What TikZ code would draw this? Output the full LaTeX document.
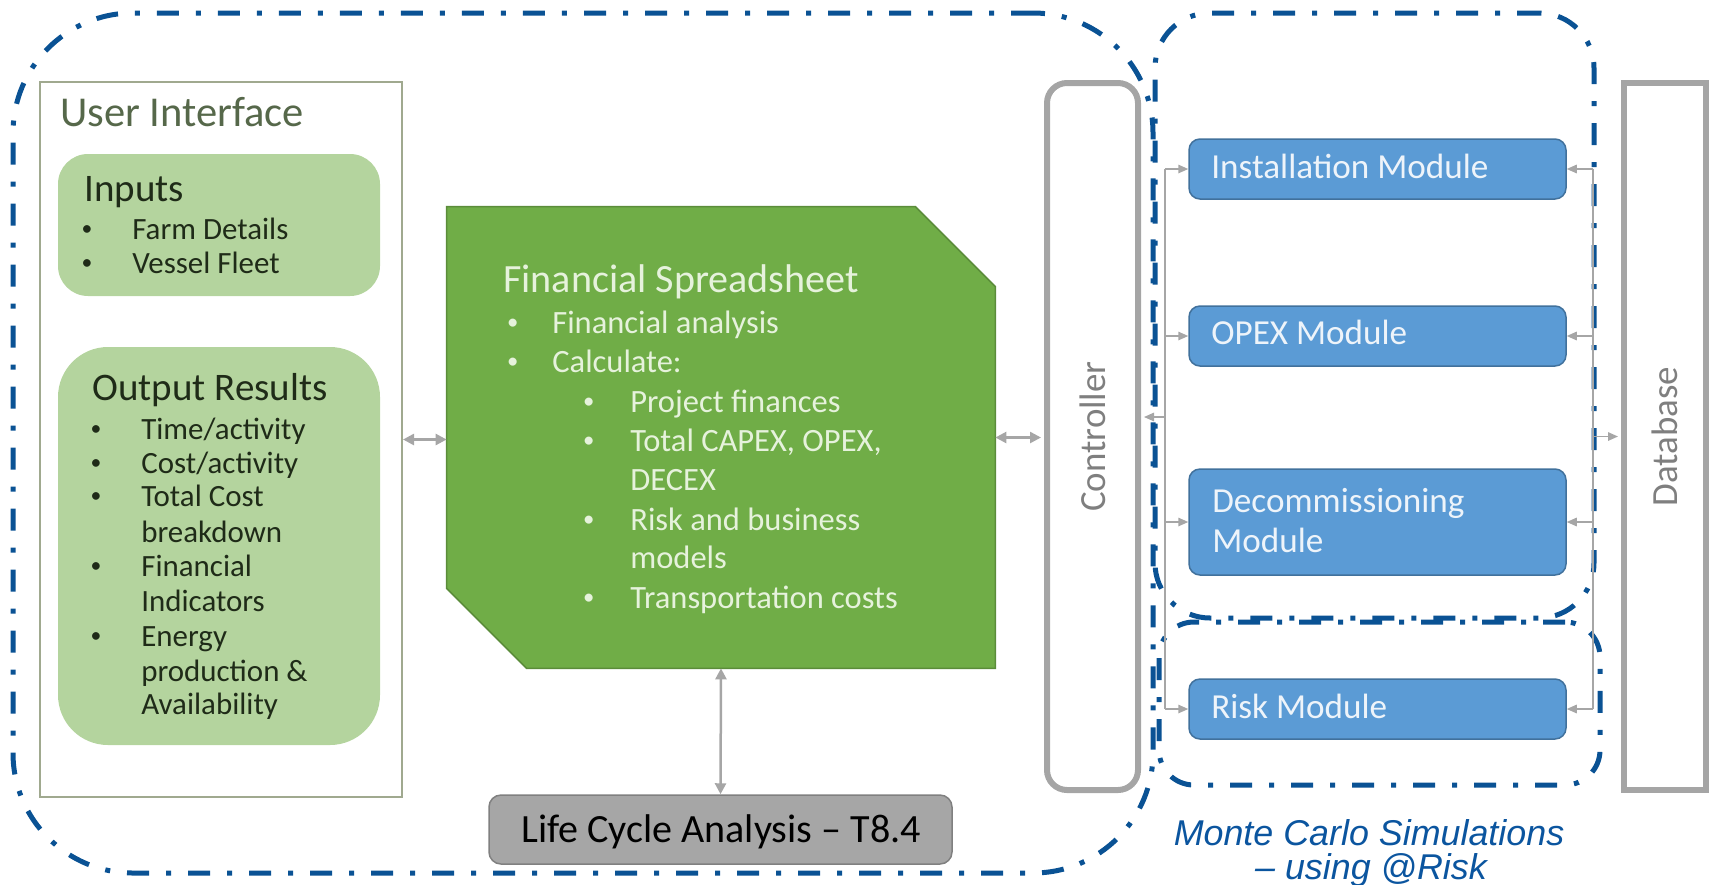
\documentclass[tikz,border=0pt]{standalone}
\usepackage{fontspec}
\setmainfont{Carlito}
\newfontfamily\mcfont{Liberation Sans}
\usepackage{xcolor}
\usepackage{tikz}
\usetikzlibrary{arrows.meta,positioning,calc,fit}

\definecolor{dashblue}{HTML}{0A5294}
\definecolor{mcblue}{HTML}{0B559F}
\definecolor{uigreen}{HTML}{56684A}
\definecolor{uiedge}{HTML}{A0A98F}
\definecolor{boxgreen}{HTML}{B4D49E}
\definecolor{darktext}{HTML}{1F2B18}
\definecolor{fsgreen}{HTML}{70AD47}
\definecolor{fsedge}{HTML}{5B8C3A}
\definecolor{fstext}{HTML}{E6F2DC}
\definecolor{modblue}{HTML}{5B9BD5}
\definecolor{modedge}{HTML}{41719C}
\definecolor{modtextc}{HTML}{EEF4FA}
\definecolor{linkgray}{HTML}{A6A6A6}
\definecolor{framegray}{HTML}{A5A5A5}
\definecolor{lcaedge}{HTML}{808080}
\definecolor{labelgray}{HTML}{7F7F7F}

% small bullet hung to the left of an item
\newcommand{\bdot}[1]{\llap{\raisebox{0.1em}{\scalebox{0.7}{\textbullet}}\hspace{#1}}}

\begin{document}
\begin{tikzpicture}[
  x=0.2mm, y=-0.2mm,
  region/.style={draw=dashblue, line width=1mm, dash pattern=on 4.4mm off 3.4mm on 1mm off 3.4mm, inner sep=0pt},
  uiframe/.style={draw=uiedge, line width=0.4mm, inner sep=0pt},
  greenbox/.style={fill=boxgreen, inner sep=0pt},
  fsbody/.style={fill=fsgreen, draw=fsedge, line width=0.3mm},
  lcabox/.style={fill=linkgray, draw=lcaedge, line width=0.3mm, rounded corners=2.4mm, inner sep=0pt},
  sideframe/.style={draw=framegray, line width=1.2mm, inner sep=0pt},
  module/.style={fill=modblue, draw=modedge, line width=0.3mm, rounded corners=2.2mm, inner sep=0pt},
  txt/.style={inner sep=0pt, anchor=base west},
  heading/.style={txt, text=darktext, font=\fontsize{22.2pt}{26pt}\selectfont},
  item/.style={txt, text=darktext, font=\fontsize{17.6pt}{21pt}\selectfont},
  fsitem/.style={txt, text=fstext, font=\fontsize{18.5pt}{22pt}\selectfont},
  modtext/.style={txt, text=modtextc, font=\fontsize{20pt}{23pt}\selectfont},
  sidetext/.style={rotate=90, inner sep=0pt, text=labelgray, font=\fontsize{21pt}{25pt}\selectfont},
  mctext/.style={inner sep=0pt, anchor=base, text=mcblue, font=\mcfont\itshape\fontsize{20.4pt}{20pt}\selectfont},
  link/.style={draw=linkgray, line width=0.3mm},
  arr/.style={link, -{Triangle[length=2mm, width=1.7mm]}},
  biarr/.style={link, line width=0.5mm, {Triangle[length=2.2mm, width=2.2mm]}-{Triangle[length=2.2mm, width=2.2mm]}},
]
\useasboundingbox (0,0) rectangle (1711,884);

%------------------- dashed groupings -------------------
\node (toolregion) [region, rounded corners=24mm, fit={(13,13) (1153,873)}] {};
\node (mcupper) [region, rounded corners=11mm, fit={(1155,13) (1594,618)}] {};
\node (mclower) [region, rounded corners=7mm, fit={(1159,622) (1600,785)}] {};
\node (mclabel) [mctext] at (1369,845) {Monte Carlo Simulations};
\node (mclabelb) [mctext] at (1371,879) {– using @Risk};

%------------------- user interface -------------------
\node (ui) [uiframe, fit={(40,82) (402,797)}] {};
\node (uititle) [txt, text=uigreen, font=\fontsize{24.2pt}{29pt}\selectfont] at (60,126) {User Interface};

\node (inputs) [greenbox, rounded corners=6mm, fit={(58,154) (380,296)}] {};
\node (inputstitle) [heading] at (84,201) {Inputs};
\node (in1) [item] at (132,239) {\bdot{8mm}Farm Details};
\node (in2) [item] at (132,273) {\bdot{8mm}Vessel Fleet};

\node (outputs) [greenbox, rounded corners=10mm, fit={(58,347) (380,745)}] {};
\node (outputstitle) [heading] at (92,400) {Output Results};
\node (out1) [item] at (141,439) {\bdot{8mm}Time/activity};
\node (out2) [item] at (141,473) {\bdot{8mm}Cost/activity};
\node (out3) [item] at (141,506) {\bdot{8mm}Total Cost};
\node (out3b) [item] at (141,542) {breakdown};
\node (out4) [item] at (141,576) {\bdot{8mm}Financial};
\node (out4b) [item] at (141,611) {Indicators};
\node (out5) [item] at (141,646) {\bdot{8mm}Energy};
\node (out5b) [item] at (141,681) {production \&};
\node (out5c) [item] at (141,714) {Availability};

%------------------- financial spreadsheet -------------------
\node (fs) [inner sep=0pt, fit={(447,207) (995,668)}] {};
\draw[fsbody] (fs.north west) -- ([xshift=-16mm]fs.north east) -- ([yshift=-16mm]fs.north east)
  -- (fs.south east) -- ([xshift=16mm]fs.south west) -- ([yshift=16mm]fs.south west) -- cycle;
\node (fstitle) [txt, text=fstext, font=\fontsize{22.8pt}{27pt}\selectfont] at (503,292) {Financial Spreadsheet};
\node (fs1) [fsitem] at (552,333) {\bdot{6.8mm}Financial analysis};
\node (fs2) [fsitem] at (552,372) {\bdot{6.8mm}Calculate:};
\node (fs3) [fsitem] at (630,412) {\bdot{7.2mm}Project finances};
\node (fs4) [fsitem] at (630,451) {\bdot{7.2mm}Total CAPEX, OPEX,};
\node (fs4b) [fsitem] at (630,490) {DECEX};
\node (fs5) [fsitem] at (630,530) {\bdot{7.2mm}Risk and business};
\node (fs5b) [fsitem] at (630,568) {models};
\node (fs6) [fsitem] at (630,608) {\bdot{7.2mm}Transportation costs};

% life cycle block
\node (lca) [lcabox, fit={(489,795) (952,864)}] {};
\node (lcatext) [inner sep=0pt, anchor=base, font=\fontsize{22.8pt}{27pt}\selectfont] at (721,842) {Life Cycle Analysis – T8.4};

%------------------- controller, modules, database -------------------
\node (ctrl) [sideframe, rounded corners=4mm, fit={(1047,83) (1138,790)}] {};
\node (ctrltext) [sidetext] at (ctrl.center) {Controller};

\node (db) [sideframe, fit={(1624,83) (1706,790)}] {};
\node (dbtext) [sidetext] at (db.center) {Database};

\node (inst) [module, fit={(1189,139) (1566,199)}] {};
\node (insttext) [modtext] at (1211,178) {Installation Module};
\node (opex) [module, fit={(1189,306) (1566,366)}] {};
\node (opextext) [modtext] at (1211,344) {OPEX Module};
\node (decom) [module, fit={(1189,469) (1566,575)}] {};
\node (decomtext) [modtext] at (1212,512) {Decommissioning};
\node (decomtextb) [modtext] at (1212,552) {Module};
\node (risk) [module, fit={(1189,679) (1566,739)}] {};
\node (risktext) [modtext] at (1211,718) {Risk Module};

%------------------- connectors -------------------
\coordinate (busl) at (1165,0);
\coordinate (busr) at (1593,0);
\coordinate (ctrlin) at (1165,417);

\draw[biarr] (ui.east) -- (ui.east -| fs.west);
\draw[biarr, shorten >=0.6mm] (fs.east) -- (fs.east -| ctrl.west);
\draw[biarr] (fs.south) -- (lca.north);

% controller side bus
\draw[link] (inst.west -| busl) -- (risk.west -| busl);
\draw[arr, shorten >=0.6mm] (ctrlin) -- (ctrlin -| ctrl.east);
\draw[arr] (inst.west -| busl) -- (inst.west);
\draw[arr] (opex.west -| busl) -- (opex.west);
\draw[arr] (decom.west -| busl) -- (decom.west);
\draw[arr] (risk.west -| busl) -- (risk.west);

% database side bus
\draw[link] (inst.east -| busr) -- (risk.east -| busr);
\draw[arr, shorten >=0.6mm] (busr |- db.west) -- (db.west);
\draw[arr] (inst.east -| busr) -- (inst.east);
\draw[arr] (opex.east -| busr) -- (opex.east);
\draw[arr] (decom.east -| busr) -- (decom.east);
\draw[arr] (risk.east -| busr) -- (risk.east);

\end{tikzpicture}
\end{document}
